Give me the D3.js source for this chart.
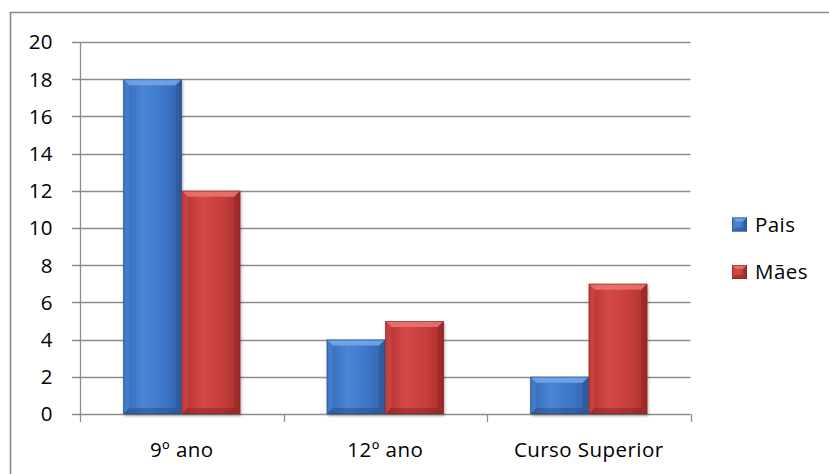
<!DOCTYPE html>
<html><head><meta charset="utf-8">
<script src="https://cdn.jsdelivr.net/npm/d3@7"></script>
<style>html,body{margin:0;padding:0;background:#fff;}svg{display:block;}</style>
</head><body>
<script>
const categories = ["9º ano", "12º ano", "Curso Superior"];
const seriesNames = ["Pais", "Mães"];
const pais = [18, 4, 2];
const maes = [12, 5, 7];
const yTicks = [0, 2, 4, 6, 8, 10, 12, 14, 16, 18, 20];

const W = 829, H = 474;
const FONT = "'Open Sans', 'Noto Sans', sans-serif";
const FS = 20.5, LS = 0.45;
const svg = d3.select("body").append("svg").attr("width", W).attr("height", H);
const defs = svg.append("defs");

const palettes = {
  Pais: {face: ["#3568b3", "#4a86d6", "#3d76c8", "#3262aa"], top: "#72a6e8", side: "#2a5595", bot: "#24497f"},
  "Mães": {face: ["#b23331", "#d44946", "#c63e3b", "#a82f2d"], top: "#e8736f", side: "#962827", bot: "#7e2120"}
};
Object.entries(palettes).forEach(([k, p], i) => {
  const g = defs.append("linearGradient").attr("id", "g" + i).attr("x1", 0).attr("x2", 1).attr("y1", 0).attr("y2", 0);
  [0, 0.35, 0.7, 1].forEach((o, j) => g.append("stop").attr("offset", o).attr("stop-color", p.face[j]));
});
const shadow = defs.append("filter").attr("id", "sh").attr("x", -0.2).attr("y", -0.2).attr("width", 1.4).attr("height", 1.4);
shadow.append("feGaussianBlur").attr("in", "SourceAlpha").attr("stdDeviation", 1.5);
shadow.append("feOffset").attr("dx", 1).attr("dy", 2).attr("result", "b");
shadow.append("feComponentTransfer").append("feFuncA").attr("type", "linear").attr("slope", 0.3);
const fm = shadow.append("feMerge"); fm.append("feMergeNode"); fm.append("feMergeNode").attr("in", "SourceGraphic");

// outer border
svg.append("path").attr("d", `M${W},12.5 H10.5 V${H}`).attr("fill", "none").attr("stroke", "#8a8a8a").attr("stroke-width", 1.6);

const x0 = 80, x1 = 690.5;
const y = d3.scaleLinear().domain([0, 20]).range([414, 42]);
const xb = d3.scaleBand().domain(categories).range([x0, x1]).padding(0);
const bw = xb.bandwidth();
const gw = bw * 0.575;
const xs = d3.scaleBand().domain(seriesNames).range([(bw - gw) / 2, (bw + gw) / 2]).padding(0);

// gridlines
svg.append("g").selectAll("line").data(yTicks).join("line")
  .attr("x1", 72).attr("x2", x1).attr("y1", d => Math.round(y(d)) + 0.5).attr("y2", d => Math.round(y(d)) + 0.5)
  .attr("stroke", "#8c8c8c").attr("stroke-width", 1.3);
// y axis line
svg.append("line").attr("x1", x0 + 0.5).attr("x2", x0 + 0.5).attr("y1", y(20)).attr("y2", y(0)).attr("stroke", "#8c8c8c").attr("stroke-width", 1.3);
// x ticks
const xt = [x0].concat(categories.map(c => xb(c) + bw));
svg.append("g").selectAll("line").data(xt).join("line")
  .attr("x1", d => Math.round(d) + 0.5).attr("x2", d => Math.round(d) + 0.5)
  .attr("y1", y(0)).attr("y2", y(0) + 8).attr("stroke", "#8c8c8c").attr("stroke-width", 1.3);

// y labels
svg.append("g").selectAll("text").data(yTicks).join("text")
  .attr("x", 53).attr("y", d => y(d)).attr("dy", "0.36em").attr("text-anchor", "end")
  .attr("font-family", FONT).attr("font-size", FS).attr("letter-spacing", LS).attr("fill", "#000").text(d => d);
// x labels
svg.append("g").selectAll("text").data(categories).join("text")
  .attr("x", d => xb(d) + bw / 2).attr("y", 450).attr("dy", "0.36em").attr("text-anchor", "middle")
  .attr("font-family", FONT).attr("font-size", FS).attr("letter-spacing", LS).attr("fill", "#000").text(d => d);

function bevelBar(g, bx, by, w, h, idx, name, bv) {
  const p = palettes[name];
  const b = Math.min(bv, h / 2, w / 2);
  const gg = g.append("g");
  gg.append("rect").attr("x", bx).attr("y", by).attr("width", w).attr("height", h).attr("fill", `url(#g${idx})`);
  gg.append("polygon").attr("points", `${bx},${by} ${bx + w},${by} ${bx + w - b},${by + b} ${bx + b},${by + b}`).attr("fill", p.top).attr("opacity", 0.9);
  gg.append("polygon").attr("points", `${bx},${by} ${bx + b},${by + b} ${bx + b},${by + h - b} ${bx},${by + h}`).attr("fill", p.face[1]).attr("opacity", 0.6);
  gg.append("polygon").attr("points", `${bx + w},${by} ${bx + w - b},${by + b} ${bx + w - b},${by + h - b} ${bx + w},${by + h}`).attr("fill", p.side).attr("opacity", 0.6);
  gg.append("polygon").attr("points", `${bx},${by + h} ${bx + b},${by + h - b} ${bx + w - b},${by + h - b} ${bx + w},${by + h}`).attr("fill", p.bot).attr("opacity", 0.45);
  gg.append("rect").attr("x", bx + 0.5).attr("y", by + 0.5).attr("width", w - 1).attr("height", h - 1).attr("fill", "none").attr("stroke", p.bot).attr("stroke-opacity", 0.5).attr("stroke-width", 1);
}

const bars = svg.append("g").attr("filter", "url(#sh)");
const seriesData = [pais, maes];
categories.forEach((c, i) => {
  seriesNames.forEach((s, k) => {
    const v = seriesData[k][i];
    const bx = xb(c) + xs(s);
    bevelBar(bars, bx, y(v), xs.bandwidth(), y(0) - y(v), k, s, 6);
  });
});

// legend
const leg = svg.append("g");
seriesNames.forEach((s, k) => {
  const cy = 224.5 + k * 47.5;
  bevelBar(leg, 732, cy - 7, 15, 14, k, s, 4);
  leg.append("text").attr("x", 755).attr("y", cy).attr("dy", "0.36em")
    .attr("font-family", FONT).attr("font-size", FS).attr("letter-spacing", LS).attr("fill", "#000").text(s);
});
</script>
</body></html>
